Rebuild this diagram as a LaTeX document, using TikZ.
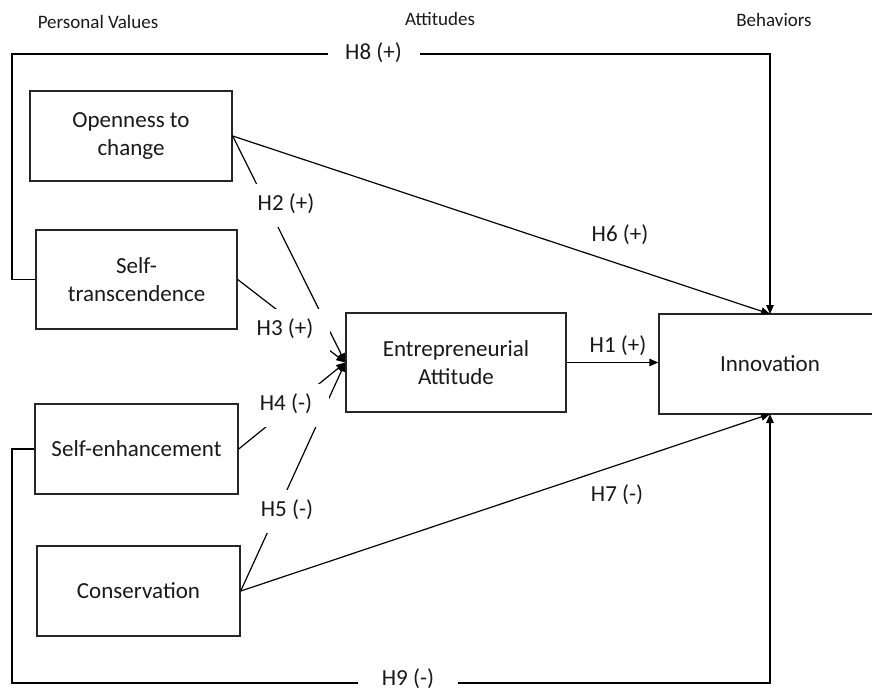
\documentclass[tikz,border=0pt]{standalone}
\usepackage{fontspec}
\setmainfont{Carlito}
\usetikzlibrary{arrows.meta}
\begin{document}
\begin{tikzpicture}[x=1pt,y=-1pt,
  every node/.style={font=\fontsize{23}{28}\selectfont, text=black!90},
  box/.style={draw=black!85, line width=1.4pt, rectangle, inner sep=0pt, align=center},
  conn/.style={draw=black, line width=1.2pt},
  arr/.style={conn, -{Triangle[length=9pt,width=7.5pt]}},
  hlab/.style={fill=white, inner xsep=17pt, inner ysep=10pt, text height=17pt, text depth=6pt},
  title/.style={font=\fontsize{19}{23}\selectfont}
]
\useasboundingbox (0,0) rectangle (872,690);

% titles
\node[title] (t1) at (98,22) {Personal Values};
\node[title] (t2) at (440,19) {Attitudes};
\node[title] (t3) at (774,20) {Behaviors};

% boxes
\node[box, minimum width=202pt, minimum height=90pt] (ope) at (131,136) {Openness to\\change};
\node[box, minimum width=201pt, minimum height=99pt] (st) at (136.5,279.5) {Self-\\transcendence};
\node[box, minimum width=203pt, minimum height=90pt] (se) at (136.5,449) {Self-enhancement};
\node[box, minimum width=203pt, minimum height=90pt] (con) at (138.5,591) {Conservation};
\node[box, minimum width=220pt, minimum height=99pt] (ea) at (456,362.5) {Entrepreneurial\\Attitude};
\node[box, minimum width=222pt, minimum height=100pt] (inn) at (770,364) {Innovation};

% helper coordinates
\coordinate (innT) at (770,314);
\coordinate (innB) at (770,414);
\coordinate (c8a) at (12,279.5);
\coordinate (c8b) at (12,54);
\coordinate (c8c) at (770,54);
\coordinate (c9a) at (12,449);
\coordinate (c9b) at (12,683);
\coordinate (c9c) at (770,683);

% connectors
\draw[arr] (st.west) -- (c8a) -- (c8b) -- (c8c) -- (innT);
\draw[arr] (se.west) -- (c9a) -- (c9b) -- (c9c) -- (innB);
\draw[arr] (ope.east) -- (innT);
\draw[arr] (con.east) -- (innB);
\draw[arr] (ea.east) -- (inn.west |- ea.east);
\draw[arr] (ope.east) -- (ea.west);
\draw[arr] (st.east) -- (ea.west);
\draw[arr] (se.east) -- (ea.west);
\draw[arr] (con.east) -- (ea.west);

% labels
\node[hlab, minimum width=92pt] (h8) at (373.5,54) {H8 (+)};
\node[fill=white, inner xsep=0pt, inner ysep=1pt, minimum width=100pt] (h9) at (408,679) {H9 (-)};
\node[hlab] (h2) at (286,205) {H2 (+)};
\node[hlab] (h3) at (285,330) {H3 (+)};
\node[hlab] (h4) at (286,405) {H4 (-)};
\node[hlab] (h5) at (287,511) {H5 (-)};
\node (h6) at (620,235) {H6 (+)};
\node (h1) at (618,346) {H1 (+)};
\node (h7) at (617,495) {H7 (-)};
\end{tikzpicture}
\end{document}
